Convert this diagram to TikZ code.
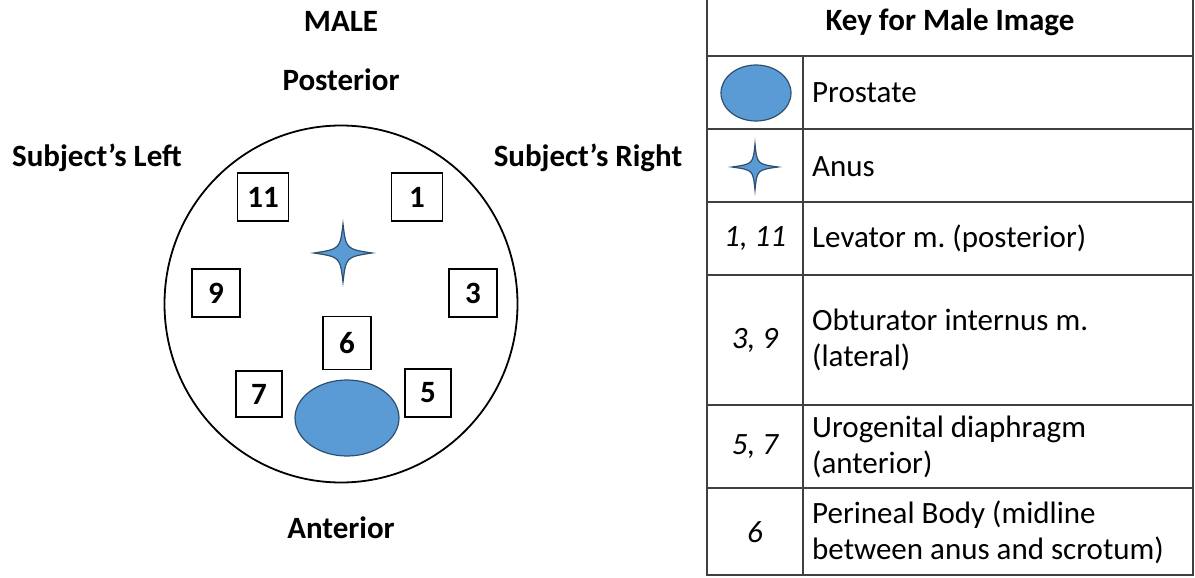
\documentclass[tikz,border=0pt]{standalone}
\usepackage{fontspec}
\setmainfont{Carlito}
\usetikzlibrary{shapes.geometric}
\frenchspacing
\begin{document}
\begin{tikzpicture}[x=1pt,y=-1pt,
  lbl/.style={font=\fontsize{31}{36}\selectfont\bfseries,inner sep=0pt},
  numbox/.style={draw,line width=1.6pt,minimum width=48pt,minimum height=48pt,inner sep=0pt,font=\fontsize{31}{34}\selectfont\bfseries},
  ktext/.style={font=\fontsize{31}{36}\selectfont,inner sep=0pt,anchor=west,align=left},
  knum/.style={font=\fontsize{31}{36}\selectfont\itshape,inner sep=0pt},
  grid/.style={line width=1.4pt,draw=black!75},
  blueshape/.style={fill=blueF,draw=blueD,line width=1.2pt}]
\definecolor{blueF}{HTML}{5B9BD5}
\definecolor{blueD}{HTML}{2F4F6F}
\useasboundingbox (0,0) rectangle (1195,578);
% left diagram
\node[lbl] (male) at (341,21) {MALE};
\node[lbl] (post) at (341,80) {Posterior};
\node[lbl] (sleft) at (97,158) {Subject’s Left};
\node[lbl] (sright) at (588,158) {Subject’s Right};
\node[lbl] (ant) at (341,528) {Anterior};
\node[draw,line width=1.8pt,ellipse,minimum width=353pt,minimum height=357pt,inner sep=0pt] (pelvis) at (341,304) {};
\node[numbox,minimum width=51pt] (b11) at (263,197) {11};
\node[numbox,minimum width=51pt] (b1) at (417,197) {1};
\node[numbox] (b9) at (216,293) {9};
\node[numbox] (b3) at (473,293) {3};
\node[numbox,minimum height=53pt] (b6) at (347,343) {6};
\node[numbox,minimum width=46pt,minimum height=46pt] (b7) at (259,394) {7};
\node[numbox,minimum width=46pt] (b5) at (428,393) {5};
\node[blueshape,ellipse,minimum width=104pt,minimum height=76pt,inner sep=0pt] (pros) at (347,418) {};
\coordinate (anus) at (343,253);
\draw[blueshape,line join=miter] (343,224) .. controls (346,249) .. (372,253)
  .. controls (346,257) .. (343,282) .. controls (340,257) .. (314,253)
  .. controls (340,249) .. cycle;
% key table
\draw[grid] (707,0) -- (707,575) -- (1193,575) -- (1193,0);
\draw[grid] (707,56) -- (1193,56);
\draw[grid] (707,129) -- (1193,129);
\draw[grid] (707,202) -- (1193,202);
\draw[grid] (707,275) -- (1193,275);
\draw[grid] (707,405) -- (1193,405);
\draw[grid] (707,488) -- (1193,488);
\draw[grid] (803,56) -- (803,575);
\node[lbl] (khead) at (950,22) {Key for Male Image};
\node[blueshape,ellipse,minimum width=70pt,minimum height=56pt,inner sep=0pt] (kpros) at (756,93) {};
\coordinate (kanus) at (755,167);
\draw[blueshape,line join=miter] (755,144) .. controls (757,164) .. (778,167)
  .. controls (757,170) .. (755,190) .. controls (753,170) .. (732,167)
  .. controls (753,164) .. cycle;
\node[ktext] (t1) at (812,93) {Prostate};
\node[ktext] (t2) at (812,167) {Anus};
\node[knum] (n3) at (755,239) {1, 11};
\node[ktext] (t3) at (812,239) {Levator m. (posterior)};
\node[knum] (n4) at (755,340) {3, 9};
\node[ktext] (t4) at (812,340) {Obturator internus m.\\(lateral)};
\node[knum] (n5) at (755,447) {5, 7};
\node[ktext] (t5) at (812,447) {Urogenital diaphragm\\(anterior)};
\node[knum] (n6) at (755,532) {6};
\node[ktext] (t6) at (812,532) {Perineal Body (midline\\between anus and scrotum)};
\end{tikzpicture}
\end{document}
